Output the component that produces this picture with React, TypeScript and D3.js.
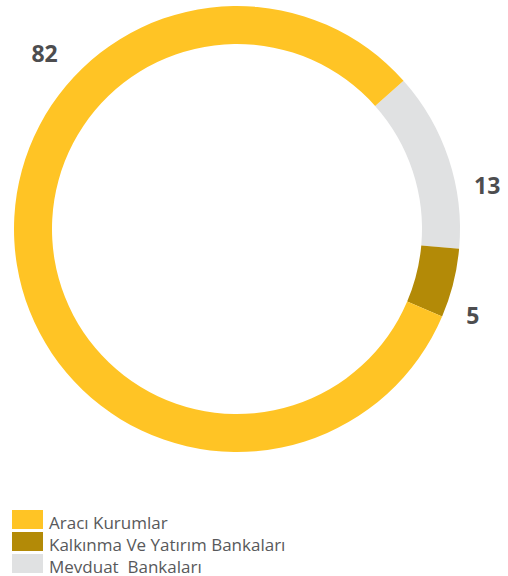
import React from "react";
import * as d3 from "d3";

const categories = ["Aracı Kurumlar", "Kalkınma Ve Yatırım Bankaları", "Mevduat  Bankaları"];
const values = [82, 5, 13];
const colors = ["#FFC425", "#B38A07", "#E0E1E2"];
// drawing order around the ring (clockwise from the start angle)
const ringOrder = [2, 1, 0];
// label angle (degrees) and radius for each category
const labelAngles = [-47.5, 110, 80];
const labelRadius = [261, 251, 254];

const W = 508;
const H = 576;
const cx = 237;
const cy = 229;
const outerR = 223;
const innerR = 185;

export default function App() {
  const pie = d3
    .pie<number>()
    .sort(null)
    .value((i) => values[i])
    .startAngle((48.3 * Math.PI) / 180)
    .endAngle((48.3 * Math.PI) / 180 + 2 * Math.PI);
  const arcs = pie(ringOrder);
  const arc = d3.arc<d3.PieArcDatum<number>>().innerRadius(innerR).outerRadius(outerR);

  return (
    <svg
      width={W}
      height={H}
      style={{ position: "absolute", left: 0, top: 0 }}
      viewBox={`0 0 ${W} ${H}`}
    >
      <rect width={W} height={H} fill="#fff" />
      <g transform={`translate(${cx},${cy})`}>
        {arcs.map((a) => (
          <path key={a.data} d={arc(a) || ""} fill={colors[a.data]} />
        ))}
        {values.map((v, i) => {
          const ang = (labelAngles[i] * Math.PI) / 180;
          const x = labelRadius[i] * Math.sin(ang);
          const y = -labelRadius[i] * Math.cos(ang);
          return (
            <text
              key={i}
              x={x}
              y={y}
              textAnchor="middle"
              dominantBaseline="central"
              fontFamily="'Open Sans', sans-serif"
              fontWeight={700}
              fontSize={23}
              fill="#4D4D4F"
            >
              {v}
            </text>
          );
        })}
      </g>
      <g transform="translate(12,510)">
        {categories.map((c, i) => (
          <g key={c} transform={`translate(0,${i * 22})`}>
            <rect width={31} height={19} fill={colors[i]} />
            <text
              x={37}
              y={19}
              fontFamily="'Open Sans', sans-serif"
              fontWeight={400}
              fontSize={17}
              fill="#58595B"
              style={{ whiteSpace: "pre" }}
            >
              {c}
            </text>
          </g>
        ))}
      </g>
    </svg>
  );
}
